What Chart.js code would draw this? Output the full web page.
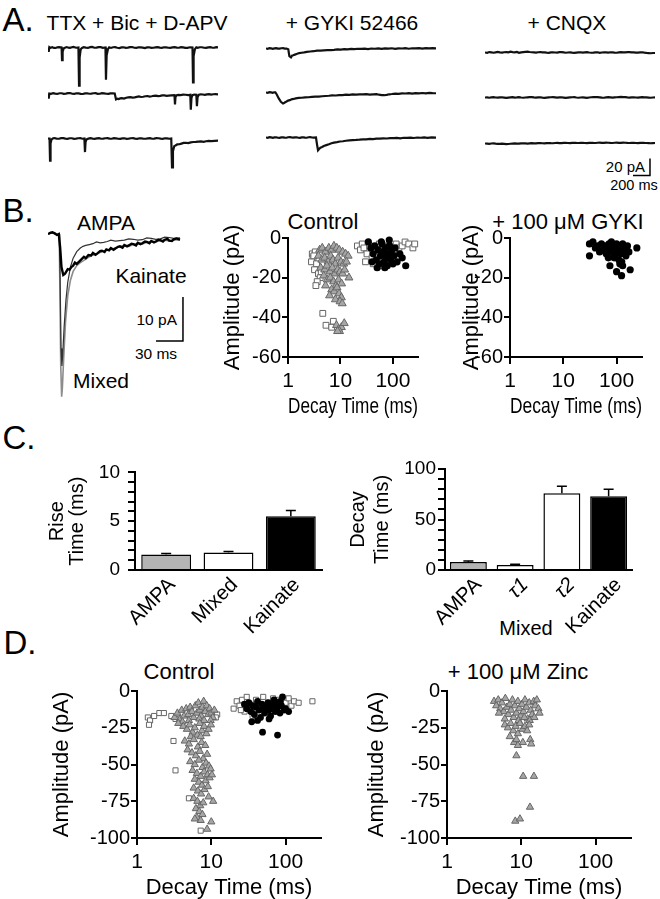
<!DOCTYPE html>
<html>
<head>
<meta charset="utf-8">
<script src="https://cdn.jsdelivr.net/npm/chart.js@4.4.1/dist/chart.umd.min.js"></script>
<style>
  body { margin: 0; background: #fff; width: 660px; height: 899px; overflow: hidden; position: relative;
         font-family: 'Liberation Sans', Arial, sans-serif; color: #000; }
  canvas { position: absolute; }
  .t { position: absolute; line-height: 1; white-space: nowrap; transform: translate(-50%, -50%); }
  .r { position: absolute; line-height: 1; white-space: nowrap; transform: translate(-100%, -50%); }
</style>
</head>
<body>
<div class="t" style="left:18px;top:19px;font-size:33px">A.</div>
<div class="t" style="left:137px;top:22px;font-size:21px">TTX + Bic + D-APV</div>
<div class="t" style="left:352px;top:22px;font-size:21px">+ GYKI 52466</div>
<div class="t" style="left:567px;top:22px;font-size:21px">+ CNQX</div>
<div class="r" style="left:645px;top:166px;font-size:15px">20 pA</div>
<div class="t" style="left:634px;top:185px;font-size:14.5px">200 ms</div>

<div class="t" style="left:18px;top:210px;font-size:33px">B.</div>
<div class="t" style="left:106px;top:222px;font-size:21px">AMPA</div>
<div class="t" style="left:151px;top:275px;font-size:21px">Kainate</div>
<div class="t" style="left:101px;top:380px;font-size:21px">Mixed</div>
<div class="r" style="left:177px;top:320px;font-size:15.5px">10 pA</div>
<div class="t" style="left:156px;top:354px;font-size:15.5px">30 ms</div>
<div class="t" style="left:323px;top:222px;font-size:22px">Control</div>
<div class="t" style="left:568px;top:222px;font-size:22px">+ 100 μM GYKI</div>

<div class="t" style="left:19px;top:437px;font-size:33px">C.</div>
<div class="t" style="left:526px;top:628px;font-size:20px">Mixed</div>

<div class="t" style="left:20px;top:642px;font-size:33px">D.</div>
<div class="t" style="left:179px;top:672px;font-size:22px">Control</div>
<div class="t" style="left:518px;top:672px;font-size:22px">+ 100 μM Zinc</div>

<script>
// ---- A: example traces, [time ms, current pA] ----
const ttx1 = [[0,0],[8,-5],[16,0.5],[30,-0.4],[50,0.3],[70,-0.5],[90,-0.6],[110,0.2],[130,0.4],[160,0],[165,-15],[172,-5],[185,-1],[200,-0.3],[220,0.5],[240,-0.2],[260,-0.4],[280,0.3],[300,0.6],[330,-0.3],[358,0],[365,-45],[372,-12],[385,-2],[400,-0.6],[420,0.3],[445,-0.2],[470,-0.5],[495,0.4],[520,0.6],[545,-0.3],[570,-0.2],[595,0.5],[620,0.4],[645,-0.4],[676,0],[682,-38],[690,-9],[705,-2],[720,0.2],[740,-0.5],[765,0.3],[790,0.4],[815,-0.3],[840,-0.6],[865,0.2],[890,0.3],[915,-0.4],[940,-0.2],[965,0.4],[990,0.5],[1015,-0.3],[1040,-0.4],[1065,0.3],[1090,0.2],[1115,-0.2],[1140,-0.6],[1165,0.1],[1190,0.3],[1215,-0.4],[1240,-0.3],[1265,0.2],[1290,0.5],[1315,-0.2],[1340,-0.4],[1365,0.3],[1390,0.2],[1415,-0.3],[1440,-0.5],[1465,0.2],[1490,0.4],[1515,-0.2],[1540,-0.3],[1565,0.4],[1590,0.2],[1615,-0.5],[1640,-0.4],[1670,0.3],[1700,0],[1706,-41],[1713,-10],[1728,-2],[1745,0.2],[1760,-0.4],[1785,0.3],[1810,0.3],[1835,-0.3],[1860,-0.5],[1885,0.2],[1910,0.4],[1935,-0.3],[1960,-0.2],[1980,0.4],[2000,0.2]];
const ttx2 = [[0,0],[8,-6],[16,0],[35,-0.3],[60,0.4],[85,-0.2],[110,-0.5],[135,0.3],[160,0.3],[185,-0.4],[210,-0.2],[235,0.4],[260,0.5],[285,-0.3],[310,-0.4],[335,0.3],[360,0.2],[385,-0.4],[410,-0.6],[435,0.2],[460,0.3],[485,-0.3],[510,-0.2],[535,0.3],[560,0.4],[585,-0.4],[610,-0.3],[635,0.4],[660,0.2],[685,-0.3],[710,-0.5],[735,0.2],[760,0.3],[785,0],[800,-7],[815,-6.2],[830,-6.5],[850,-5.8],[870,-5.5],[895,-5.9],[920,-5],[945,-4.6],[970,-4.2],[995,-4.8],[1020,-4.5],[1045,-3.9],[1070,-3.5],[1095,-4.1],[1120,-3.8],[1145,-3.2],[1170,-3],[1195,-3.6],[1220,-3.2],[1245,-2.7],[1270,-2.5],[1295,-3.1],[1320,-2.8],[1345,-2.3],[1370,-2.2],[1395,-2.7],[1420,-2.4],[1450,-2.1],[1488,-2],[1494,-13],[1500,-4],[1515,-2],[1535,-1.6],[1560,-1.8],[1590,-1.3],[1620,-1.5],[1650,-1.9],[1674,-1.6],[1680,-19],[1688,-5],[1700,-2],[1720,-1.2],[1745,-1.5],[1752,-15],[1760,-4],[1775,-1.5],[1800,-0.9],[1820,-1.2],[1845,-1.6],[1870,-1],[1895,-0.7],[1920,-1.3],[1945,-0.9],[1970,-0.8],[2000,-1]];
const ttx3 = [[0,0],[18,0],[24,-26],[30,-6],[42,-1],[60,0.3],[80,0.4],[105,-0.3],[130,-0.3],[155,0.4],[180,0.5],[205,-0.2],[230,-0.4],[255,0.3],[280,0.3],[305,-0.4],[330,-0.2],[355,0.3],[380,0.4],[405,-0.3],[428,0],[435,-16],[442,-4],[455,-1],[475,-0.2],[500,0.3],[525,-0.2],[550,-0.5],[575,0.2],[600,0.4],[625,-0.3],[650,-0.2],[675,0.3],[700,0.5],[725,-0.2],[750,-0.3],[775,0.4],[800,0.2],[825,-0.3],[850,-0.5],[875,0.2],[900,0.3],[925,-0.4],[950,-0.2],[975,0.3],[1000,0.4],[1025,-0.2],[1050,-0.4],[1075,0.3],[1100,0.2],[1125,-0.3],[1150,-0.3],[1175,0.2],[1200,0.4],[1225,-0.3],[1250,-0.2],[1275,0.4],[1300,0.3],[1325,-0.2],[1350,-0.4],[1375,0.3],[1400,0.2],[1425,-0.3],[1450,0],[1459,-34],[1470,-15],[1485,-9],[1500,-8.2],[1520,-7],[1545,-6.8],[1570,-6],[1595,-5.2],[1620,-5],[1650,-5.4],[1680,-4.5],[1710,-4.1],[1740,-4],[1770,-3.6],[1800,-3.5],[1830,-3.9],[1860,-3.2],[1890,-2.8],[1920,-3],[1960,-2.7],[2000,-2.6]];
const gyki1 = [[0,0],[20,-0.3],[40,0.5],[60,0.1],[80,-0.3],[100,0.2],[120,0.4],[140,-0.2],[160,-0.2],[180,0.3],[200,0.5],[220,-0.1],[240,0],[262,-1],[275,-9],[294,-10.5],[306,-8.5],[320,-8],[340,-7.2],[360,-6.5],[390,-5.4],[420,-5],[450,-4.6],[480,-4],[520,-3.5],[560,-3.2],[600,-2.6],[640,-2.5],[680,-2.2],[720,-2],[760,-1.8],[800,-1.6],[840,-1.1],[880,-1.3],[920,-0.8],[960,-1],[1000,-0.5],[1040,-0.8],[1080,-0.3],[1120,-0.5],[1160,-0.2],[1200,-0.7],[1240,0],[1280,-0.3],[1320,0.1],[1360,-0.5],[1400,0.2],[1440,-0.2],[1480,0.3],[1520,-0.4],[1560,0.2],[1600,0],[1640,0.4],[1680,-0.3],[1720,0.3],[1760,0.1],[1800,0.5],[1840,-0.2],[1880,0.4],[1920,0.2],[1960,0.5],[2000,0.1]];
const gyki2 = [[0,0],[20,-0.3],[40,0.4],[60,0.1],[80,-0.3],[95,0.3],[110,0.2],[125,-2],[150,-7],[175,-11],[200,-13],[212,-12.4],[225,-11.5],[242,-10.6],[260,-9.5],[280,-9],[300,-8],[325,-7.6],[350,-7],[385,-6.4],[420,-6.2],[460,-5.7],[500,-5.6],[540,-5.2],[580,-4.8],[620,-4.8],[660,-4.4],[700,-4.1],[740,-3.8],[780,-3.3],[820,-3.5],[860,-3.1],[900,-3],[940,-2.5],[980,-2.8],[1020,-2.3],[1060,-2.5],[1100,-2.2],[1140,-2.2],[1180,-1.9],[1220,-2.5],[1260,-2.1],[1300,-2],[1330,-2.6],[1360,-3],[1390,-3.2],[1420,-2.8],[1450,-2.1],[1480,-1.8],[1520,-1.3],[1560,-1.5],[1600,-1.1],[1640,-1.2],[1680,-0.8],[1720,-1.4],[1760,-0.7],[1800,-1],[1840,-0.6],[1880,-1.1],[1920,-0.5],[1960,-0.8],[2000,-0.9]];
const gyki3 = [[0,0],[20,-0.3],[40,0.4],[60,0.1],[80,-0.4],[100,0.2],[120,0.3],[140,-0.3],[160,-0.5],[180,0.1],[200,0.2],[220,-0.2],[240,-0.3],[260,0.3],[280,0.5],[300,0.1],[320,-0.2],[340,0.2],[360,0.3],[380,-0.3],[400,-0.4],[420,0.1],[440,0.2],[460,-0.2],[480,-0.3],[500,0.3],[520,0.4],[540,0],[560,-0.2],[588,0],[600,-8],[612,-15],[625,-13.5],[640,-12],[660,-11.2],[680,-10],[710,-9],[740,-8],[770,-6.8],[800,-6],[835,-5.4],[870,-4.7],[905,-4.4],[940,-3.8],[980,-3.3],[1020,-3],[1060,-2.9],[1100,-2.6],[1140,-2.2],[1180,-2.2],[1220,-1.7],[1260,-1.8],[1300,-1.3],[1340,-1.4],[1380,-1],[1420,-1.2],[1460,-0.7],[1500,-0.8],[1540,-0.4],[1580,-0.9],[1620,-0.3],[1660,-0.5],[1700,-0.2],[1740,-0.6],[1780,0],[1820,-0.3],[1860,0.1],[1900,-0.4],[1950,0.1],[2000,-0.2]];
const cnqx1 = [[0,0],[25,-0.3],[50,0.5],[75,0.1],[100,-0.3],[125,0.2],[150,0.6],[175,0.1],[200,-0.2],[225,0.3],[250,0.4],[275,0.2],[300,0.9],[325,0.5],[350,0.2],[375,0.6],[400,-0.4],[425,0.1],[450,0.5],[475,0.8],[500,1.0],[525,0.6],[550,0.3],[575,0.1],[600,-0.2],[625,0.3],[650,0.6],[675,0.2],[700,0.1],[725,-0.2],[750,-0.4],[775,0.1],[800,0.3],[825,0],[850,-0.1],[875,0.4],[900,0.5],[925,0.1],[950,-0.3],[975,0],[1000,0.2],[1025,-0.2],[1050,-0.5],[1075,-0.1],[1100,0.1],[1125,0.3],[1150,-0.2],[1175,0.1],[1200,0.4],[1225,0],[1250,-0.3],[1275,-0.1],[1300,0.2],[1325,0.3],[1350,-0.4],[1375,0],[1400,0.3],[1425,0.1],[1450,-0.1],[1475,0.3],[1500,0.2],[1525,-0.1],[1550,-0.3],[1575,0.1],[1600,0.4],[1625,0.2],[1650,0.1],[1675,0.4],[1700,0.5],[1725,0.1],[1750,0.2],[1775,-0.1],[1800,-0.2],[1825,0.1],[1850,0.3],[1875,-0.2],[1900,-0.5],[1925,-0.7],[1950,-0.9],[1975,-0.6],[2000,-0.6]];
const cnqx2 = [[0,0],[25,0.2],[50,-0.3],[75,0.1],[100,0.4],[125,0],[150,-0.2],[175,0.1],[200,0.3],[225,-0.1],[250,-0.5],[275,-0.1],[300,0.2],[325,0.4],[350,-0.1],[375,0.1],[400,0.4],[425,0],[450,-0.3],[475,0],[500,0.2],[525,0.4],[550,0.5],[575,0.1],[600,-0.2],[625,0.1],[650,0.3],[675,-0.1],[700,-0.4],[725,-0.1],[750,0.1],[775,0.3],[800,0.4],[825,0.1],[850,-0.2],[875,0.1],[900,0.3],[925,-0.1],[950,-0.5],[975,-0.2],[1000,0.1],[1025,0.3],[1050,0.4],[1075,0],[1100,-0.3],[1125,0],[1150,0.2],[1175,-0.1],[1200,-0.4],[1225,0],[1250,0.3],[1275,0.5],[1300,0.6],[1325,0.4],[1350,0.2],[1375,-0.1],[1400,-0.3],[1425,0.1],[1450,0.4],[1475,0.1],[1500,-0.2],[1525,0.1],[1550,0.3],[1575,0.5],[1600,0.7],[1625,0.5],[1650,0.4],[1675,0.1],[1700,-0.1],[1725,0.2],[1750,0.3],[1775,0],[1800,-0.2],[1825,0.1],[1850,0.4],[1875,0.2],[1900,0.1],[1925,-0.1],[1950,-0.3],[1975,0],[2000,0.2]];
const cnqx3 = [[0,0],[25,-0.2],[50,-0.4],[75,0],[100,0.2],[125,-0.2],[150,-0.5],[175,-0.4],[200,-0.2],[225,-0.5],[250,-0.8],[275,-0.6],[300,-0.3],[325,-0.1],[350,0.1],[375,-0.1],[400,-0.2],[425,0.1],[450,0.3],[475,0.1],[500,-0.1],[525,0.2],[550,0.4],[575,0.2],[600,0.1],[625,0.4],[650,0.5],[675,0.3],[700,0.2],[725,0.5],[750,0.6],[775,0.4],[800,0.3],[825,0.6],[850,0.7],[875,0.5],[900,0.4],[925,0.7],[950,0.8],[975,0.6],[1000,0.5],[1025,0.8],[1050,0.9],[1075,0.7],[1100,0.6],[1125,0.9],[1150,0.8],[1175,0.6],[1200,0.5],[1225,0.8],[1250,0.9],[1275,0.7],[1300,0.6],[1325,0.9],[1350,1.0],[1375,0.8],[1400,0.7],[1425,1.0],[1450,0.9],[1475,0.7],[1500,0.6],[1525,0.9],[1550,1.0],[1575,0.8],[1600,0.7],[1625,1.0],[1650,0.9],[1675,0.7],[1700,0.6],[1725,0.9],[1750,0.8],[1775,0.6],[1800,0.5],[1825,0.8],[1850,0.9],[1875,0.7],[1900,0.6],[1925,0.5],[1950,0.3],[1975,0.5],[2000,0.6]];
const scaleBarA = [[1741,-37.6],[1941,-37.6],[1941,-17.6]];   // 200 ms, 20 pA

// ---- B: averaged events, [time ms, current pA] ----
const kainateTrace = [[0,0],[3,0.3],[5,0.4],[8,0.1],[10,-0.2],[12,0],[13.5,-3],[15,-7.5],[17,-9.3],[19,-9],[22,-8],[24,-8.1],[26,-7.5],[28,-7.2],[30,-6.5],[32,-6.8],[35,-6.2],[38,-5.6],[40,-5.2],[42,-5.5],[45,-4.8],[48,-4.9],[50,-4.3],[53,-4.7],[55,-4.4],[58,-3.9],[60,-3.8],[63,-4.1],[65,-3.5],[68,-3.7],[70,-3.2],[73,-3.6],[75,-3.3],[78,-2.9],[80,-2.8],[83,-3.1],[85,-2.5],[88,-2.8],[90,-2.6],[93,-2.2],[95,-2.3],[98,-2.6],[100,-2],[103,-2.3],[105,-2.1],[108,-1.7],[110,-1.8],[113,-2.1],[115,-1.6],[118,-1.9],[120,-1.7],[123,-1.3],[125,-1.4],[128,-1.7],[130,-1.3],[133,-1.1],[135,-1.5],[138,-1.6],[140,-1.2],[143,-1.0],[147,-1.3]];
const ampaTrace = [[0,0],[5,0.3],[10,-0.2],[12.5,0],[13.5,-10],[14.5,-26],[15.5,-30],[16.5,-27],[18,-21],[20,-15],[22,-11],[25,-7.5],[28,-5.5],[32,-4],[36,-3.2],[39,-2.8],[42,-2.6],[46,-2.4],[50,-2.2],[54,-1.8],[58,-2],[62,-1.9],[66,-1.7],[70,-1.4],[75,-1.6],[80,-1.5],[85,-1.4],[90,-1.1],[95,-1.2],[100,-1.4],[105,-1.3],[110,-0.9],[115,-1],[120,-1.2],[125,-1.1],[130,-0.7],[135,-0.8],[140,-1.0],[147,-0.9]];
const mixedTrace = [[0,0],[5,0.3],[10,-0.3],[12.5,0],[13.2,-12],[14.2,-30],[15.2,-37],[16,-35],[17.5,-28],[19.5,-20],[22,-14],[25,-10.5],[28,-8.5],[32,-7.2],[36,-6.5],[40,-6],[45,-5.3],[50,-4.8],[55,-4.5],[60,-4],[65,-3.7],[70,-3.5],[75,-3.2],[80,-2.9],[85,-2.6],[90,-2.8],[95,-2.4],[100,-2.1],[105,-2.3],[110,-1.9],[115,-1.7],[120,-1.8],[125,-1.5],[130,-1.4],[135,-1.6],[140,-1.3],[147,-1.4]];
const scaleBarB = [[120.3,-24.3],[150.3,-24.3],[150.3,-14.3]];   // 30 ms, 10 pA

// ---- B: decay time (ms) vs amplitude (pA) ----
const bCtrlTri = [[4.0,-6],[4.5,-5],[5.2,-7],[6.0,-5],[6.8,-6],[7.5,-4],[8.5,-5],[9.5,-6],[11,-7],[12.5,-8],[14,-9],[3.8,-9],[4.4,-11],[5.0,-10],[5.8,-12],[6.5,-9],[7.2,-11],[8.0,-13],[9.0,-10],[10.2,-12],[11.5,-13],[13,-12],[4.2,-15],[5.0,-16],[5.5,-14],[6.3,-17],[7.0,-15],[7.8,-18],[8.8,-16],[9.8,-17],[11,-18],[12,-16],[14.5,-20],[4.8,-19],[5.6,-21],[6.4,-20],[7.4,-22],[8.2,-24],[9.2,-21],[10.5,-23],[5.2,-24],[6.8,-26],[7.6,-27],[8.6,-25],[9.4,-28],[10.4,-30],[8.0,-31],[9.8,-32],[10.8,-33],[6.2,-29],[8.4,-44],[9.2,-46],[10.4,-45],[11.8,-43],[9.6,-47],[8.8,-47]];
const bCtrlSq = [[2.9,-8],[3.0,-10],[2.8,-12],[3.3,-7],[3.5,-13],[3.2,-16],[3.8,-18],[4.1,-20],[3.6,-22],[3.4,-24],[4.3,-17],[4.6,-38],[5.3,-44],[7.3,-42],[6.8,-45],[3.1,-9],[21,-4],[24,-6],[26,-3],[28,-5],[32,-8],[36,-4],[40,-10],[45,-6],[50,-12],[55,-3],[62,-7],[70,-5],[78,-11],[85,-4],[95,-8],[105,-6],[115,-3],[130,-5],[150,-4],[170,-2],[200,-3],[240,-5],[260,-3],[30,-12],[42,-13],[60,-14]];
const bCtrlDot = [[34,-2],[38,-5],[42,-8],[45,-4],[48,-11],[52,-6],[55,-13],[58,-9],[62,-3],[65,-7],[68,-12],[72,-5],[75,-10],[78,-14],[82,-8],[86,-4],[90,-11],[95,-6],[100,-13],[105,-9],[110,-5],[120,-12],[135,-8],[150,-10],[175,-14],[60,-2],[70,-15],[85,-1],[40,-12],[50,-15]];
const bGykiDot = [[31,-3],[36,-2],[40,-5],[44,-4],[48,-7],[52,-3],[56,-6],[60,-4],[64,-8],[68,-5],[72,-3],[76,-7],[80,-2],[84,-6],[88,-4],[92,-9],[96,-5],[100,-3],[105,-7],[110,-11],[115,-5],[120,-8],[125,-12],[130,-3],[140,-6],[150,-9],[160,-4],[170,-7],[31,-9],[75,-14],[100,-17],[124,-19],[180,-16],[240,-5],[115,-13],[90,-10],[70,-10],[130,-14]];

// ---- C: kinetics (ms), mean and SEM ----
const riseLabels = ['AMPA', 'Mixed', 'Kainate'];
const riseMeans = [1.6, 1.8, 5.5];
const riseErrs = [0.1, 0.1, 0.6];
const riseColors = ['#b4b4b4', '#ffffff', '#000000'];
const decayLabels = ['AMPA', 'τ1', 'τ2', 'Kainate'];
const decayMeans = [8, 5, 76, 73];
const decayErrs = [1, 0.6, 7, 7];
const decayColors = ['#b4b4b4', '#ffffff', '#ffffff', '#000000'];

// ---- D: decay time (ms) vs amplitude (pA) ----
const dCtrlTri = [[3.2,-18],[3.5,-15],[3.8,-19],[4.0,-13],[4.3,-17],[4.6,-12],[4.9,-16],[5.2,-11],[5.5,-14],[5.8,-18],[6.1,-10],[6.4,-15],[6.7,-8],[7.0,-13],[7.3,-17],[7.6,-11],[7.9,-7],[8.3,-14],[8.7,-10],[9.1,-16],[9.5,-12],[10,-15],[10.5,-18],[11,-13],[6.9,-19],[5.0,-20],[4.1,-21],[8.0,-20],[9.8,-20],[3.6,-22],[4.2,-24],[4.7,-26],[5.1,-23],[5.6,-28],[6.0,-25],[6.5,-30],[7.0,-22],[7.5,-27],[8.0,-24],[8.6,-29],[9.2,-26],[9.9,-23],[5.3,-31],[7.2,-31],[4.4,-34],[5.0,-36],[5.8,-33],[6.6,-38],[7.4,-35],[8.3,-37],[4.8,-40],[5.5,-42],[6.2,-44],[7.0,-41],[7.8,-46],[8.8,-43],[5.2,-48],[6.0,-50],[6.8,-47],[7.6,-52],[8.5,-49],[9.3,-51],[5.6,-54],[6.4,-56],[7.2,-58],[8.0,-55],[8.9,-57],[9.8,-53],[6.0,-60],[6.8,-62],[7.5,-64],[8.4,-61],[9.5,-59],[10.2,-57],[5.8,-66],[6.6,-68],[7.3,-70],[8.1,-67],[9.0,-65],[5.8,-73],[6.5,-75],[7.1,-78],[7.8,-76],[6.2,-80],[6.9,-82],[7.6,-84],[6.4,-86],[7.2,-88],[6.0,-87],[8.8,-94],[10,-89],[10.6,-75],[9.2,-72]];
const dCtrlSq = [[1.4,-18],[1.5,-20],[1.45,-23],[1.7,-17],[2.0,-15],[2.3,-15],[3.1,-34],[3.3,-54],[5.0,-73],[7.2,-95],[12,-16],[2.9,-17],[3.3,-19],[4.0,-16],[11.5,-18],[20,-12],[22,-7],[24,-10],[26,-6],[28,-14],[30,-4],[33,-9],[36,-17],[40,-6],[45,-11],[50,-4],[55,-13],[60,-8],[68,-5],[75,-10],[82,-6],[90,-12],[100,-8],[110,-5],[120,-10],[130,-7],[150,-8],[230,-7],[25,-13],[35,-12],[62,-15]];
const dCtrlDot = [[28,-9],[30,-12],[32,-8],[34,-14],[36,-10],[38,-16],[40,-11],[42,-7],[44,-13],[46,-18],[48,-9],[50,-12],[52,-15],[55,-10],[58,-8],[60,-13],[63,-17],[66,-11],[70,-9],[73,-14],[76,-12],[80,-8],[84,-15],[88,-10],[91,-4],[95,-13],[42,-20],[60,-19],[49,-28],[78,-30],[35,-21],[70,-6],[85,-7],[100,-12],[110,-14]];
const dZincTri = [[4.3,-7],[4.6,-10],[4.9,-6],[5.2,-12],[5.5,-8],[5.8,-14],[6.1,-5],[6.4,-11],[6.7,-16],[7.0,-9],[7.3,-13],[7.6,-6],[7.9,-18],[8.2,-10],[8.6,-15],[9.0,-7],[9.4,-12],[9.8,-17],[10.2,-9],[10.7,-14],[11.2,-6],[11.7,-11],[12.2,-19],[12.8,-8],[13.4,-13],[14,-16],[14.7,-7],[15.4,-10],[16.2,-6],[17,-12],[17.6,-15],[5.0,-15],[6.0,-19],[9.2,-20],[11,-18],[13,-20],[15,-18],[6.0,-23],[6.6,-25],[7.2,-22],[7.8,-27],[8.4,-24],[9.0,-29],[9.6,-22],[10.4,-26],[11.2,-24],[12,-27],[12.8,-23],[7.0,-31],[8.0,-35],[9.0,-37],[8.6,-33],[10.5,-35],[13.2,-33],[13.6,-36],[8.6,-44],[10.6,-58],[14.8,-58],[13.1,-79],[8.3,-88.5],[9.6,-87]];

Chart.defaults.font.family = "'Liberation Sans', Arial, sans-serif";
Chart.defaults.color = '#000';

function addCanvas(left, top, w, h) {
  const c = document.createElement('canvas');
  c.width = w;
  c.height = h;
  c.style.left = left + 'px';
  c.style.top = top + 'px';
  document.body.appendChild(c);
  return c;
}

const baseOpts = {
  responsive: false,
  animation: false,
  events: [],
  plugins: { legend: { display: false }, tooltip: { enabled: false } },
};

function line(data, color, width) {
  return { data: data, borderColor: color, borderWidth: width, pointRadius: 0, tension: 0, clip: false };
}

// trace charts: px per ms and px per pA fixed, baseline placed 8.5 px below top
function traceChart(left, top, w, h, pxMs, pxPa, yMax, sets) {
  new Chart(addCanvas(left, top, w, h), {
    type: 'line',
    data: { datasets: sets },
    options: Object.assign({}, baseOpts, {
      scales: {
        x: { type: 'linear', display: false, min: 0, max: w / pxMs },
        y: { display: false, max: yMax, min: yMax - h / pxPa },
      },
    }),
  });
}

const K = '#111';
const LW = 2.2;
traceChart(48, 38.5, 170, 50, 0.085, 0.85, 10, [line(ttx1, K, LW)]);
traceChart(48, 84.5, 170, 50, 0.085, 0.85, 10, [line(ttx2, K, LW)]);
traceChart(48, 129.5, 170, 50, 0.085, 0.85, 10, [line(ttx3, K, LW)]);
traceChart(266, 39.5, 170, 50, 0.085, 0.85, 10, [line(gyki1, K, LW)]);
traceChart(266, 83.5, 170, 50, 0.085, 0.85, 10, [line(gyki2, K, LW)]);
traceChart(266, 128.5, 170, 50, 0.085, 0.85, 10, [line(gyki3, K, LW)]);
traceChart(485, 43.5, 170, 50, 0.085, 0.85, 10, [line(cnqx1, K, LW)]);
traceChart(485, 88.5, 170, 50, 0.085, 0.85, 10, [line(cnqx2, K, LW)]);
traceChart(485, 134.5, 170, 45, 0.085, 0.85, 10, [line(cnqx3, K, LW), line(scaleBarA, '#000', 1.5)]);

traceChart(48, 215, 142, 185, 0.898, 4.4, 4.318, [
  line(kainateTrace, '#000', 2.4),
  line(ampaTrace, '#333', 1.2),
  line(mixedTrace, '#8c8c8c', 1.6),
  line(scaleBarB, '#000', 1.5),
]);

// ---- shared axis styling ----
function axisStyle(tickLen) {
  return {
    grid: { display: true, drawOnChartArea: false, drawTicks: tickLen > 0, color: '#000', lineWidth: 2,
            tickLength: tickLen, tickColor: '#000', tickWidth: 2 },
    border: { display: true, color: '#000', width: 2 },
  };
}

const tri = (data, r) => ({ data: data, pointStyle: 'triangle', pointRadius: r, backgroundColor: '#a6a6a6', borderColor: '#666666', borderWidth: 1, clip: false });
const sq = (data, r) => ({ data: data, pointStyle: 'rect', pointRadius: r, backgroundColor: '#ffffff', borderColor: '#666666', borderWidth: 1, clip: false });
const dot = (data, r) => ({ data: data, pointStyle: 'circle', pointRadius: r, backgroundColor: '#000000', borderColor: '#000000', borderWidth: 0, clip: false });

function scatterChart(o) {
  const left = o.titleX - 17, top = o.y0 - 16;
  const w = o.xEnd + 12 - left, h = o.yEnd + 67 - top;
  new Chart(addCanvas(left, top, w, h), {
    type: 'scatter',
    data: { datasets: o.sets },
    options: Object.assign({}, baseOpts, {
      layout: { padding: { top: 16, right: 12, left: 0, bottom: 0 } },
      scales: {
        x: Object.assign(axisStyle(7), {
          type: 'logarithmic', min: 1, max: 300,
          afterBuildTicks: s => { s.ticks = [1, 10, 100].map(v => ({ value: v })); },
          afterFit: s => { s.height = 67; },
          ticks: { callback: v => String(v), font: { size: 21 }, padding: 5, maxRotation: 0, autoSkip: false },
          title: { display: true, text: 'Decay Time (ms)', font: { size: 22 }, padding: { top: 0, bottom: 4 } },
        }),
        y: Object.assign(axisStyle(6), {
          min: o.ymin, max: 0,
          afterBuildTicks: s => { s.ticks = o.yticks.map(v => ({ value: v })); },
          afterFit: s => { s.width = o.axisX - left; },
          ticks: { callback: v => String(v), font: { size: 20 }, padding: 1, autoSkip: false },
          title: { display: true, text: 'Amplitude (pA)', font: { size: 22 }, padding: { top: 4, bottom: 0 } },
        }),
      },
    }),
  });
}

scatterChart({ axisX: 288, titleX: 233, y0: 238, yEnd: 357, xEnd: 418, ymin: -60, yticks: [0, -20, -40, -60],
  sets: [dot(bCtrlDot, 3.6), tri(bCtrlTri, 4.6), sq(bCtrlSq, 4.1)] });
scatterChart({ axisX: 510, titleX: 472, y0: 238, yEnd: 357, xEnd: 642, ymin: -60, yticks: [0, -20, -40, -60],
  sets: [dot(bGykiDot, 3.6)] });
scatterChart({ axisX: 137, titleX: 62, y0: 691, yEnd: 838, xEnd: 321, ymin: -100, yticks: [0, -25, -50, -75, -100],
  sets: [dot(dCtrlDot, 3.4), tri(dCtrlTri, 4.2), sq(dCtrlSq, 3.6)] });
scatterChart({ axisX: 447, titleX: 377, y0: 691, yEnd: 838, xEnd: 631, ymin: -100, yticks: [0, -25, -50, -75, -100],
  sets: [tri(dZincTri, 4.2)] });

// ---- C: bar charts with upward SEM bars ----
const errorBars = {
  id: 'errorBars',
  afterDatasetsDraw(chart, args, opts) {
    const ctx = chart.ctx, y = chart.scales.y;
    const ds = chart.data.datasets[0];
    ctx.save();
    ctx.strokeStyle = '#000';
    ctx.lineWidth = 1.5;
    chart.getDatasetMeta(0).data.forEach((bar, i) => {
      const y0 = y.getPixelForValue(ds.data[i]);
      const y1 = y.getPixelForValue(ds.data[i] + opts.errors[i]);
      ctx.beginPath();
      ctx.moveTo(bar.x, y0);
      ctx.lineTo(bar.x, y1);
      ctx.moveTo(bar.x - 5, y1);
      ctx.lineTo(bar.x + 5, y1);
      ctx.stroke();
    });
    ctx.restore();
  },
};

function barChart(o) {
  const left = o.left, top = 453;
  const w = o.xEnd + 6 - left, h = 570 + 80 - top;
  new Chart(addCanvas(left, top, w, h), {
    type: 'bar',
    data: {
      labels: o.labels,
      datasets: [{ data: o.means, backgroundColor: o.colors, borderColor: '#000', borderWidth: 1.5,
                   barPercentage: o.barPct, categoryPercentage: 1 }],
    },
    plugins: [errorBars],
    options: Object.assign({}, baseOpts, {
      layout: { padding: { top: 16, right: 6, left: 0, bottom: 0 } },
      plugins: { legend: { display: false }, tooltip: { enabled: false }, errorBars: { errors: o.errs } },
      scales: {
        x: Object.assign(axisStyle(0), {
          afterFit: s => { s.height = 80; },
          ticks: { minRotation: 45, maxRotation: 45, padding: 3, labelOffset: o.labelShift, autoSkip: false,
                   font: c => ({ size: 20.5, style: o.italic.includes(c.index) ? 'italic' : 'normal' }) },
        }),
        y: Object.assign(axisStyle(7), {
          min: 0, max: o.ymax,
          afterFit: s => { s.width = o.axisX - left; },
          ticks: { stepSize: o.ymax / 10, font: { size: 19 }, padding: o.tickPad, autoSkip: false,
                   callback: v => (v % (o.ymax / 2) === 0 ? String(v) : '') },
          title: { display: true, text: o.title, font: { size: 20, lineHeight: o.lh }, padding: { top: 4, bottom: 0 } },
        }),
      },
    }),
  });
}

barChart({ left: 43, axisX: 135, xEnd: 322, labels: riseLabels, means: riseMeans, errs: riseErrs, colors: riseColors,
  barPct: 0.8, ymax: 10, title: ['Rise', 'Time (ms)'], lh: 1.0, italic: [], labelShift: 6, tickPad: 8 });
barChart({ left: 342, axisX: 445, xEnd: 632, labels: decayLabels, means: decayMeans, errs: decayErrs, colors: decayColors,
  barPct: 0.79, ymax: 100, title: ['Decay', 'Time (ms)'], lh: 1.2, italic: [1, 2], labelShift: 10, tickPad: 2 });
</script>
</body>
</html>
